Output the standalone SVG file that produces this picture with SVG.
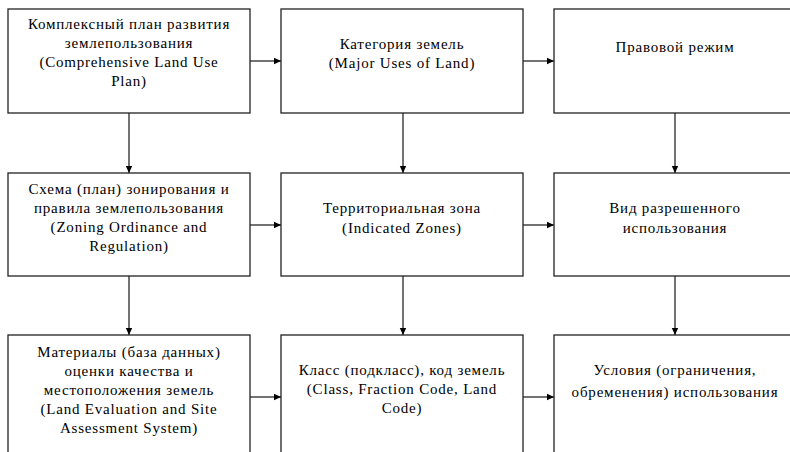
<svg xmlns="http://www.w3.org/2000/svg" width="790" height="452" viewBox="0 0 790 452">
<defs>
<marker id="ah" markerWidth="8" markerHeight="8" refX="7" refY="4" orient="auto" markerUnits="userSpaceOnUse">
<path d="M0,0.8 L7,4 L0,7.2 Z" fill="#000"/>
</marker>
<style>
.box{fill:#fff;stroke:#222;stroke-width:1.3}
.t{font-family:"Liberation Serif","Times New Roman",serif;font-size:15px;fill:#000;text-anchor:middle;letter-spacing:0.8px}
.c{stroke:#000;stroke-width:1.1;fill:none;marker-end:url(#ah)}
</style>
</defs>
<rect width="790" height="452" fill="#fff"/>
<g id="connectors">
<line class="c" x1="250" y1="61" x2="281" y2="61"/>
<line class="c" x1="523" y1="61" x2="554" y2="61"/>
<line class="c" x1="250" y1="225" x2="281" y2="225"/>
<line class="c" x1="523" y1="225" x2="554" y2="225"/>
<line class="c" x1="250" y1="397" x2="281" y2="397"/>
<line class="c" x1="523" y1="397" x2="554" y2="397"/>
<line class="c" x1="129" y1="113" x2="129" y2="173"/>
<line class="c" x1="403" y1="113" x2="403" y2="173"/>
<line class="c" x1="675" y1="113" x2="675" y2="173"/>
<line class="c" x1="129" y1="276" x2="129" y2="335"/>
<line class="c" x1="403" y1="276" x2="403" y2="335"/>
<line class="c" x1="675" y1="276" x2="675" y2="335"/>
</g>
<g id="n1">
<rect class="box" x="8" y="9" width="242" height="104"/>
<text class="t" x="129" y="29">Комплексный план развития</text>
<text class="t" x="129" y="48">землепользования</text>
<text class="t" x="129" y="67">(Comprehensive Land Use</text>
<text class="t" x="129" y="86">Plan)</text>
</g>
<g id="n2">
<rect class="box" x="281" y="9" width="242" height="104"/>
<text class="t" x="402" y="49">Категория земель</text>
<text class="t" x="402" y="68">(Major Uses of Land)</text>
</g>
<g id="n3">
<rect class="box" x="554" y="9" width="250" height="104"/>
<text class="t" x="675" y="52">Правовой режим</text>
</g>
<g id="n4">
<rect class="box" x="8" y="173" width="242" height="103"/>
<text class="t" x="129" y="194">Схема (план) зонирования и</text>
<text class="t" x="129" y="213">правила землепользования</text>
<text class="t" x="129" y="232">(Zoning Ordinance and</text>
<text class="t" x="129" y="251">Regulation)</text>
</g>
<g id="n5">
<rect class="box" x="281" y="173" width="242" height="103"/>
<text class="t" x="402" y="213">Территориальная зона</text>
<text class="t" x="402" y="233">(Indicated Zones)</text>
</g>
<g id="n6">
<rect class="box" x="554" y="173" width="250" height="103"/>
<text class="t" x="675" y="213">Вид разрешенного</text>
<text class="t" x="675" y="233">использования</text>
</g>
<g id="n7">
<rect class="box" x="8" y="335" width="242" height="130"/>
<text class="t" x="129" y="357">Материалы (база данных)</text>
<text class="t" x="129" y="376">оценки качества и</text>
<text class="t" x="129" y="395">местоположения земель</text>
<text class="t" x="129" y="414">(Land Evaluation and Site</text>
<text class="t" x="129" y="433">Assessment System)</text>
</g>
<g id="n8">
<rect class="box" x="281" y="335" width="242" height="130"/>
<text class="t" x="402" y="375">Класс (подкласс), код земель</text>
<text class="t" x="402" y="394">(Class, Fraction Code, Land</text>
<text class="t" x="402" y="413">Code)</text>
</g>
<g id="n9">
<rect class="box" x="554" y="335" width="250" height="130"/>
<text class="t" x="675" y="375">Условия (ограничения,</text>
<text class="t" x="675" y="397">обременения) использования</text>
</g>
</svg>
